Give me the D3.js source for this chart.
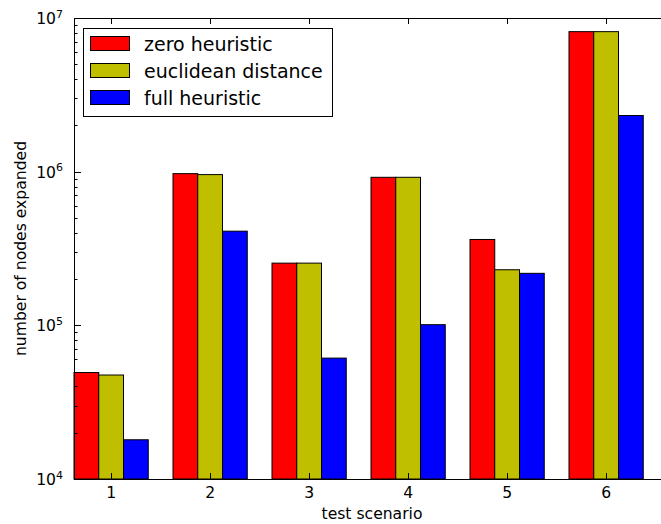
<!DOCTYPE html>
<html>
<head>
<meta charset="utf-8">
<script src="https://cdn.jsdelivr.net/npm/d3@7"></script>
<style>
  body { margin: 0; background: #fff; }
  svg { display: block; font-family: "DejaVu Sans", sans-serif; }
</style>
</head>
<body>
<svg width="661" height="524"></svg>
<script>
// values
var scenarios = ["1", "2", "3", "4", "5", "6"];
var zeroHeuristic = [49300, 971000, 254000, 919000, 362000, 8150000];
var euclideanDistance = [47500, 957000, 254000, 919000, 230000, 8150000];
var fullHeuristic = [18000, 410000, 61200, 101000, 218000, 2320000];
var seriesNames = ["zero heuristic", "euclidean distance", "full heuristic"];
var seriesColors = ["#ff0000", "#bfbf00", "#0000ff"];
var yTicks = [1e4, 1e5, 1e6, 1e7];

var series = [zeroHeuristic, euclideanDistance, fullHeuristic];

var svg = d3.select("svg"),
    plotLeft = 74, plotTop = 18, plotBottom = 479,
    unit = 99,
    barW = 0.25,
    fs = 15.6;

var x = d3.scaleLinear().domain([0, 6]).range([plotLeft, plotLeft + 6 * unit]);
var y = d3.scaleLog().domain([1e4, 1e7]).range([plotBottom, plotTop]);

// bars
series.forEach(function(vals, k) {
  svg.append("g").selectAll("rect")
    .data(vals)
    .enter().append("rect")
      .attr("x", function(d, i) { return x(i + k * barW); })
      .attr("y", function(d) { return y(d); })
      .attr("width", x(barW) - x(0))
      .attr("height", function(d) { return plotBottom - y(d); })
      .attr("fill", seriesColors[k])
      .attr("stroke", "#000")
      .attr("stroke-width", 1);
});

// frame
var frame = svg.append("g").attr("stroke", "#000").attr("stroke-width", 1).attr("fill", "none");
frame.append("rect")
  .attr("x", plotLeft + 0.5).attr("y", plotTop + 0.5)
  .attr("width", x(6) - plotLeft).attr("height", plotBottom - plotTop);

// x ticks (inward, bottom and top)
var xt = d3.range(scenarios.length).map(function(i) { return i + 1.5 * barW; });
xt.forEach(function(t, i) {
  var px = Math.round(x(t)) + 0.5;
  frame.append("line").attr("x1", px).attr("x2", px).attr("y1", plotBottom).attr("y2", plotBottom - 6);
  frame.append("line").attr("x1", px).attr("x2", px).attr("y1", plotTop).attr("y2", plotTop + 6);
  svg.append("text")
    .attr("x", x(t)).attr("y", 498)
    .attr("text-anchor", "middle")
    .attr("font-size", fs)
    .text(scenarios[i]);
});

// y ticks, major and minor
var minors = [];
for (var e = 4; e < 7; e++) {
  for (var m = 2; m <= 9; m++) minors.push(m * Math.pow(10, e));
}
minors.forEach(function(v) {
  var py = Math.round(y(v)) + 0.5;
  frame.append("line").attr("x1", plotLeft).attr("x2", plotLeft + 3.5).attr("y1", py).attr("y2", py);
});
yTicks.forEach(function(v) {
  var py = Math.round(y(v)) + 0.5;
  frame.append("line").attr("x1", plotLeft).attr("x2", plotLeft + 7).attr("y1", py).attr("y2", py);
  var t = svg.append("text")
    .attr("x", 63).attr("y", y(v) + 6)
    .attr("text-anchor", "end")
    .attr("font-size", fs);
  t.append("tspan").text("10");
  t.append("tspan").attr("dy", -6.5).attr("font-size", 11).text(Math.round(Math.log10(v)));
});

// axis labels
svg.append("text")
  .attr("x", 372).attr("y", 519)
  .attr("text-anchor", "middle")
  .attr("font-size", fs)
  .text("test scenario");

svg.append("text")
  .attr("transform", "translate(26," + (plotTop + plotBottom) / 2 + ") rotate(-90)")
  .attr("text-anchor", "middle")
  .attr("font-size", fs)
  .text("number of nodes expanded");

// legend
var legend = svg.append("g");
legend.append("rect")
  .attr("x", 83.5).attr("y", 28.5).attr("width", 249).attr("height", 88)
  .attr("fill", "#fff").attr("stroke", "#000");
seriesNames.forEach(function(name, k) {
  var cy = 44 + k * 27;
  legend.append("rect")
    .attr("x", 90.5).attr("y", cy - 7.5).attr("width", 39).attr("height", 14)
    .attr("fill", seriesColors[k]).attr("stroke", "#000");
  legend.append("text")
    .attr("x", 144).attr("y", cy + 7)
    .attr("font-size", 19)
    .text(name);
});
</script>
</body>
</html>
